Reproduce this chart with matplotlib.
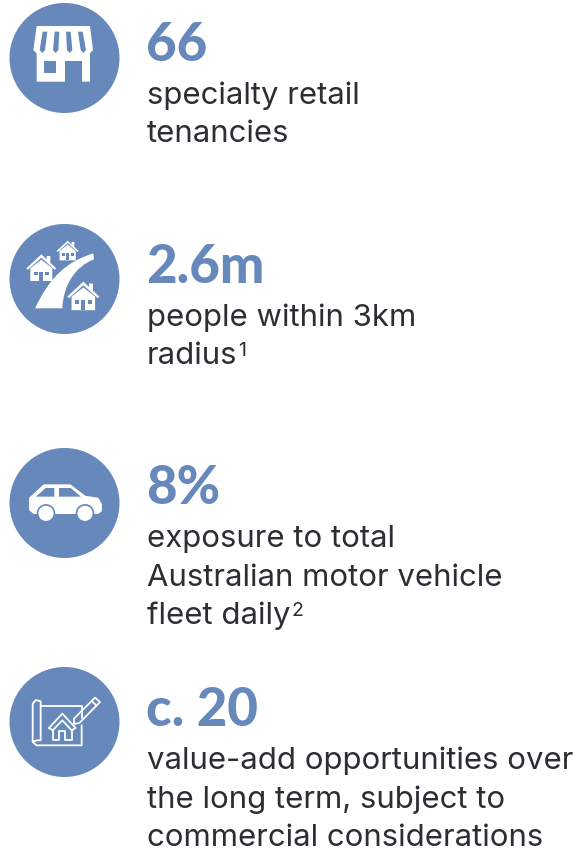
import matplotlib.pyplot as plt
from matplotlib.patches import Circle, Polygon
from matplotlib.path import Path
from matplotlib.patches import PathPatch

BLUE = '#6688bb'
DARK = '#2b2e32'
WHITE = 'white'

# contenu du graphique
headlines = ['66', '2.6m', '8%', 'c. 20']
descriptions = [
    ['specialty retail', 'tenancies'],
    ['people within 3km', 'radius'],
    ['exposure to total', 'Australian motor vehicle', 'fleet daily'],
    ['value-add opportunities over', 'the long term, subject to', 'commercial considerations'],
]
footnotes = [None, '1', '2', None]

# position des blocs, en pixels
circle_y = [58, 279, 503, 722]
headline_base = [61, 283, 504, 726]
first_line_base = [104, 326, 547, 769]
line_gap = 38.5
text_x = 147

plt.rcParams['font.family'] = ['Inter', 'DejaVu Sans']

fig = plt.figure(figsize=(5.82, 8.51), dpi=100)
ax = fig.add_axes([0, 0, 1, 1])
ax.set_xlim(0, 582)
ax.set_ylim(851, 0)
ax.axis('off')


def poly(points, x0, y0, color=WHITE, z=3):
    # les points viennent du zoom x3
    pts = [(x0 + a / 3, y0 + b / 3) for a, b in points]
    ax.add_patch(Polygon(pts, closed=True, fc=color, ec='none', zorder=z))


def house(x0, y0, cx, top, s):
    # maison blanche, cx et top en coordonnées zoom, s = échelle
    poly([(cx - 45 * s, top + 42 * s), (cx, top), (cx + 45 * s, top + 42 * s),
          (cx + 40 * s, top + 46 * s), (cx, top + 10 * s), (cx - 40 * s, top + 46 * s)], x0, y0)
    poly([(cx + 16 * s, top + 5 * s), (cx + 27 * s, top + 5 * s), (cx + 27 * s, top + 28 * s),
          (cx + 16 * s, top + 18 * s)], x0, y0)
    poly([(cx - 33 * s, top + 42 * s), (cx, top + 16 * s), (cx + 33 * s, top + 42 * s),
          (cx + 33 * s, top + 80 * s), (cx - 33 * s, top + 80 * s)], x0, y0)
    poly([(cx - 23 * s, top + 52 * s), (cx - 11 * s, top + 52 * s), (cx - 11 * s, top + 63 * s),
          (cx - 23 * s, top + 63 * s)], x0, y0, BLUE, 4)
    poly([(cx + 12 * s, top + 52 * s), (cx + 24 * s, top + 52 * s), (cx + 24 * s, top + 63 * s),
          (cx + 12 * s, top + 63 * s)], x0, y0, BLUE, 4)
    poly([(cx - 6 * s, top + 52 * s), (cx + 6 * s, top + 52 * s), (cx + 6 * s, top + 80 * s),
          (cx - 6 * s, top + 80 * s)], x0, y0, BLUE, 4)


def icon_shop(y0):
    poly([(110, 78), (270, 78), (279, 150), (270, 160), (270, 245), (110, 245), (110, 160), (100, 150)], 0, y0)
    for a, b in [(135, 127), (171, 167), (205, 209), (241, 250)]:
        poly([(a - 7, 95), (a + 7, 95), (b + 8, 150), (b, 159), (b - 8, 150)], 0, y0, BLUE, 4)
    poly([(132, 183), (167, 183), (167, 218), (132, 218)], 0, y0, BLUE, 4)
    poly([(195, 183), (245, 183), (245, 245), (195, 245)], 0, y0, BLUE, 4)


def icon_road(y0):
    verts = [(105, 265), (150, 170), (200, 125), (280, 100), (282, 118), (225, 140), (190, 195), (187, 265), (105, 265)]
    codes = [Path.MOVETO, Path.CURVE4, Path.CURVE4, Path.CURVE4, Path.LINETO, Path.CURVE4, Path.CURVE4, Path.CURVE4, Path.CLOSEPOLY]
    ax.add_patch(PathPatch(Path([(a / 3, y0 + b / 3) for a, b in verts], codes), fc=WHITE, ec='none', zorder=3))
    house(0, y0, 124, 103, 1.0)
    house(0, y0, 203, 62, 0.74)
    # contour bleu autour de la grande maison
    poly([(195, 235), (250, 177), (305, 235), (305, 270), (195, 270)], 0, y0, BLUE, 2.9)
    house(0, y0, 250, 185, 1.07)


def icon_car(y0):
    pts = [(90, 160), (132, 121), (210, 121), (255, 155), (293, 161), (303, 178), (303, 197), (293, 204),
           (102, 204), (90, 194)]
    ax.add_patch(Polygon([(a / 3, y0 + b / 3) for a, b in pts], closed=True, fc=WHITE, ec=WHITE, lw=1.4,
                         joinstyle='round', zorder=3))
    poly([(108, 155), (137, 129), (163, 129), (163, 155)], 0, y0, BLUE, 4)
    poly([(177, 129), (212, 129), (243, 155), (177, 155)], 0, y0, BLUE, 4)
    for cx in (138, 255):
        ax.add_patch(Circle((cx / 3, y0 + 205 / 3), 9.3, fc=BLUE, ec='none', zorder=4))
        ax.add_patch(Circle((cx / 3, y0 + 205 / 3), 7.6, fc=WHITE, ec='none', zorder=5))


def line(points, y0, lw=1.3):
    ax.plot([a / 3 for a, b in points], [y0 + b / 3 for a, b in points], color=WHITE, lw=lw,
            solid_capstyle='round', solid_joinstyle='round', zorder=3)


def icon_plan(y0):
    line([(122, 133), (245, 133)], y0)
    line([(245, 133), (245, 168)], y0)
    line([(245, 190), (245, 250), (110, 250), (98, 240), (98, 125), (108, 114), (122, 118), (122, 235),
          (110, 235), (98, 240)], y0)
    # maison
    line([(147, 198), (187, 155), (227, 198), (215, 205), (187, 175), (158, 205), (147, 198)], y0)
    line([(160, 205), (160, 235), (178, 235), (178, 208), (196, 208), (196, 235), (216, 235), (216, 205)], y0)
    # crayon
    line([(222, 170), (285, 107), (300, 120), (238, 183), (222, 186), (222, 170)], y0)
    line([(275, 117), (290, 131)], y0)


for y in circle_y:
    ax.add_patch(Circle((64.5, y), 55, fc=BLUE, ec='none', zorder=1))

# origine du zoom de chaque icône
icon_shop(0)
icon_road(220)
icon_car(445)
icon_plan(662)

for head, hb, lines, base, note in zip(headlines, headline_base, descriptions, first_line_base, footnotes):
    ax.text(text_x - 1, hb, head, fontsize=38, fontweight='black', family=['Lato', 'DejaVu Sans'],
            color=BLUE, ha='left', va='baseline')
    for i, txt in enumerate(lines):
        t = ax.text(text_x, base + i * line_gap, txt, fontsize=22.4, color=DARK, ha='left', va='baseline')
    if note:
        fig.canvas.draw()
        box = t.get_window_extent()
        ax.text(box.x1 + 1, t.get_position()[1] - 8, note, fontsize=14, color=DARK, ha='left', va='baseline')

fig.savefig('out.png', dpi=100)
